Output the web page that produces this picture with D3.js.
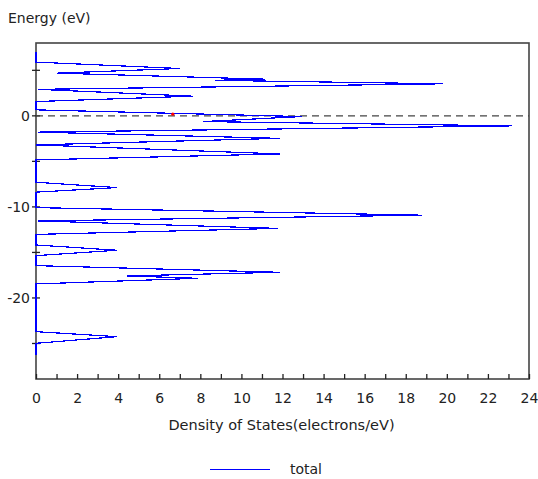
<!DOCTYPE html>
<html><head><meta charset="utf-8">
<script src="https://d3js.org/d3.v7.min.js"></script>
<style>body{margin:0;background:#fff;} svg{display:block;} text{font-family:"DejaVu Sans",sans-serif;fill:#222;}</style>
</head><body>
<svg id="c" width="538" height="479"></svg>
<script>
// Total DOS polyline (energy in eV, density in electrons/eV)
const energy = [7.03, 5.90, 5.20, 4.69, 4.03, 3.90, 3.52, 2.91, 2.16, 1.57, 0.66, -0.08, -0.63, -1.10, -1.79, -2.47, -3.19, -4.18, -4.84,
  -7.29, -7.88, -8.38, -10.08, -10.91, -11.54, -12.36, -13.02, -14.18, -14.76, -15.35, -16.45, -17.18, -17.58, -17.84, -18.46,
  -23.70, -24.25, -24.98, -26.26];
const dos = [0, 0, 7.0, 1.02, 11.13, 8.70, 19.83, 0.1, 7.63, 0, 0, 12.93, 8.12, 23.19, 0.1, 11.86, 0, 11.86, 0,
  0, 3.94, 0, 0, 18.77, 0.1, 11.76, 0, 0, 3.94, 0, 0, 11.86, 4.42, 7.88, 0,
  0, 3.94, 0, 0];
const fermi = {dos: 6.66, energy: 0.18};
const xTicks = d3.range(0, 25, 1);
const xLabels = d3.range(0, 25, 2);
const yTicks = [5, 0, -5, -10, -15, -20, -25];
const yLabels = [0, -10, -20];
const seriesName = "total";

const svg = d3.select("#c");
const L = 36, R = 529, T = 43, B = 379;
const x = d3.scaleLinear().domain([0, 24]).range([L, R]);
const y = d3.scaleLinear().domain([-28.9, 8.0]).range([B, T]);

// frame
svg.append("rect").attr("x", L).attr("y", T).attr("width", R - L).attr("height", B - T)
  .attr("fill", "none").attr("stroke", "#444").attr("stroke-width", 1.6);

// x axis ticks (inside)
const xa = d3.axisBottom(x).tickValues(xTicks).tickSizeInner(-5).tickSizeOuter(0)
  .tickFormat(d => xLabels.includes(d) ? d : "");
const gx = svg.append("g").attr("transform", `translate(0,${B})`).call(xa);
gx.select(".domain").remove();
gx.selectAll(".tick line").attr("stroke", "#222").attr("stroke-width", 1.3);
gx.selectAll(".tick text").attr("dy", null).attr("y", 24).style("font-size", "14px")
  .style("font-family", "'DejaVu Sans',sans-serif").attr("fill", "#222");

// y axis ticks (crossing)
const gy = svg.append("g");
yTicks.forEach(v => {
  gy.append("line").attr("x1", L - 4).attr("x2", L + 4).attr("y1", y(v)).attr("y2", y(v))
    .attr("stroke", "#222").attr("stroke-width", 1.3);
});
yLabels.forEach(v => {
  gy.append("text").attr("x", L - 6).attr("y", y(v)).attr("dy", "0.35em").attr("text-anchor", "end")
    .style("font-size", "14px").text(v);
});

// Fermi level dashed line
svg.append("line").attr("x1", L).attr("x2", R).attr("y1", y(0)).attr("y2", y(0))
  .attr("stroke", "#444").attr("stroke-width", 1.3).attr("stroke-dasharray", "7,5");

// DOS curve
const pts = energy.map((e, i) => [dos[i], e]);
svg.append("path").datum(pts)
  .attr("d", d3.line().x(d => x(d[0])).y(d => y(d[1])))
  .attr("fill", "none").attr("stroke", "#0000ff").attr("stroke-width", 1.2)
  .attr("shape-rendering", "crispEdges");

// Fermi marker
svg.append("circle").attr("cx", x(fermi.dos)).attr("cy", y(fermi.energy)).attr("r", 1.6).attr("fill", "#ff0000");

// labels
svg.append("text").attr("x", 8).attr("y", 23).style("font-size", "14px").text("Energy (eV)");
svg.append("text").attr("x", (L + R) / 2 - 1).attr("y", 430).attr("text-anchor", "middle")
  .style("font-size", "14.5px").text("Density of States(electrons/eV)");

// legend
svg.append("line").attr("x1", 210).attr("x2", 270).attr("y1", 469.5).attr("y2", 469.5)
  .attr("stroke", "#0000ff").attr("stroke-width", 1);
svg.append("text").attr("x", 290).attr("y", 474).style("font-size", "14px").text(seriesName);
</script>
</body></html>
